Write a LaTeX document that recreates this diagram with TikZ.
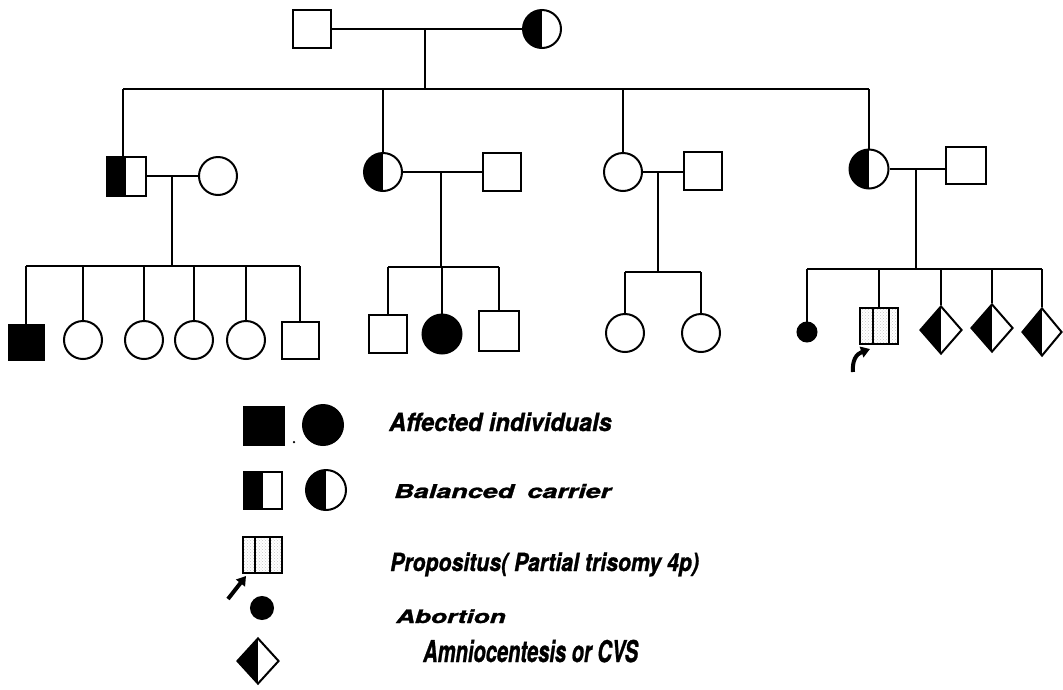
\documentclass[tikz,border=0pt]{standalone}
\usepackage{fontspec}
\usepackage{graphicx}
\newfontfamily\hv[FakeBold=1.2]{TeX Gyre Heros}
\usetikzlibrary{shapes.geometric,patterns,arrows.meta}
\begin{document}
\begin{tikzpicture}[x=1pt,y=-1pt,
  ln/.style={line width=2pt},
  ind/.style={draw, line width=2pt, inner sep=0pt},
  male/.style={ind, rectangle, minimum width=#1, minimum height=#1},
  male/.default=38pt,
  female/.style={ind, circle, minimum size=#1},
  female/.default=38pt,
  carrier/.style={path picture={\fill[black] (path picture bounding box.south west) rectangle (path picture bounding box.north);}},
  aff/.style={fill=black},
  probd/.style={ind, rectangle, pattern=crosshatch dots, pattern color=black!22, minimum width=38pt, minimum height=36pt},
  amnio/.style={ind, diamond, minimum width=42pt, minimum height=48pt, carrier},
  abort/.style={ind, circle, fill=black, minimum size=19pt},
  legtext/.style={inner sep=0pt, anchor=base west, font=\hv\bfseries\itshape},
  arr/.style={line width=4pt, -{Triangle[length=9pt,width=11pt]}},
]
\useasboundingbox (0,0) rectangle (1063,689);

% ---------- Generation I
\node[male] (I1) at (312,29) {};
\node[female, carrier] (I2) at (542,29) {};
\draw[ln] (I1) -- (I2);
\coordinate (m1) at (425,29);
\coordinate (b1) at (425,89);
\draw[ln] (m1) -- (b1);

% ---------- Generation II
\node[male=39pt, carrier] (II1) at (126,176) {};
\node[female] (II2) at (218,176) {};
\node[female, carrier] (II3) at (383,172) {};
\node[male] (II4) at (502,172) {};
\node[female] (II5) at (623,172) {};
\node[male] (II6) at (703,171) {};
\node[female=39pt, carrier] (II7) at (869,169) {};
\node[male, minimum width=40pt, minimum height=37pt] (II8) at (966,165) {};

\coordinate (b1L) at (123,89);
\draw[ln] (b1L) -- (II7.north |- b1);
\draw[ln] (b1L) -- (b1L |- II1.north);
\draw[ln] (II3.north |- b1) -- (II3.north);
\draw[ln] (II5.north |- b1) -- (II5.north);
\draw[ln] (II7.north |- b1) -- (II7.north);

% marriages
\draw[ln] (II1.east) -- (II2.west);
\draw[ln] (II3.east) -- (II4.west);
\draw[ln] (II5.east) -- (II5.east -| II6.west);
\draw[ln] (II7.east) -- (II7.east -| II8.west);

\coordinate (m2) at (172,176);
\coordinate (m3) at (441,172);
\coordinate (m5) at (658,172);
\coordinate (m4) at (916,169);
\coordinate (b2) at (172,266);
\coordinate (b3) at (441,267);
\coordinate (b5) at (658,272);
\coordinate (b4) at (916,269);
\draw[ln] (m2) -- (b2);
\draw[ln] (m3) -- (b3);
\draw[ln] (m5) -- (b5);
\draw[ln] (m4) -- (b4);

% ---------- Generation III, family 1
\node[male=35pt, aff] (III1) at (26,342) {};
\node[female] (III2) at (83,340) {};
\node[female] (III3) at (144,340) {};
\node[female] (III4) at (194,340) {};
\node[female] (III5) at (246,340) {};
\node[male=37pt] (III6) at (300,340) {};
\draw[ln] (III1.north |- b2) -- (III6.north |- b2);
\foreach \c in {III1,III2,III3,III4,III5,III6}
  \draw[ln] (\c.north |- b2) -- (\c.north);

% family 2
\node[male] (III7) at (388,334) {};
\node[female=39pt, aff] (III8) at (442,334) {};
\node[male=40pt] (III9) at (499,331) {};
\draw[ln] (III7.north |- b3) -- (III9.north |- b3);
\foreach \c in {III7,III8,III9}
  \draw[ln] (\c.north |- b3) -- (\c.north);

% family 3
\node[female] (III10) at (625,333) {};
\node[female] (III11) at (701,333) {};
\draw[ln] (III10.north |- b5) -- (III11.north |- b5);
\foreach \c in {III10,III11}
  \draw[ln] (\c.north |- b5) -- (\c.north);

% family 4
\node[abort] (III12) at (807,332) {};
\node[probd] (III13) at (879,326) {};
\draw[ln] ([xshift=-6pt]III13.north) -- ([xshift=-6pt]III13.south);
\draw[ln] ([xshift=10pt]III13.north) -- ([xshift=10pt]III13.south);
\node[amnio] (III14) at (941,330) {};
\node[amnio] (III15) at (992,328) {};
\node[amnio, minimum width=40pt] (III16) at (1042,332) {};
\draw[ln] (III12.north |- b4) -- (III16.north |- b4);
\foreach \c in {III12,III13,III14,III15,III16}
  \draw[ln] (\c.north |- b4) -- (\c.north);

\coordinate (a1s) at (853,372);
\coordinate (a1e) at (870,349);
\draw[arr] (a1s) .. controls (852,361) and (856,354) .. (a1e);

% ---------- Legend
\node[male, aff, minimum width=40pt, minimum height=38pt] (L1) at (264,426) {};
\node[circle, fill=black, inner sep=0pt, minimum size=2.5pt] (Ldot) at (294,442) {};
\node[female=40pt, aff] (L2) at (323,425) {};
\node[legtext, font=\hv\bfseries\itshape\fontsize{25}{28}\selectfont] (T1) at (389,431) {\scalebox{0.94}[1]{Affected individuals}};

\node[male, carrier, minimum width=38pt, minimum height=37pt] (L3) at (263,490) {};
\node[female=40pt, carrier] (L4) at (326,490) {};
\node[legtext, font=\hv\bfseries\itshape\fontsize{19}{22}\selectfont] (T2) at (394,498) {\scalebox{1.42}[1]{Balanced\hspace{4pt} carrier}};

\node[probd, minimum width=39pt, minimum height=36pt] (L5) at (262,555) {};
\draw[ln] ([xshift=-7pt]L5.north) -- ([xshift=-7pt]L5.south);
\draw[ln] ([xshift=8pt]L5.north) -- ([xshift=8pt]L5.south);
\coordinate (a2s) at (228,599);
\coordinate (a2e) at (246,576);
\draw[arr] (a2s) -- (a2e);
\node[legtext, font=\hv\bfseries\itshape\fontsize{25}{28}\selectfont] (T3) at (390,571) {\scalebox{0.85}[1]{Propositus( Partial trisomy 4p)}};

\node[abort, minimum size=22pt] (L6) at (262,608) {};
\node[legtext, font=\hv\bfseries\itshape\fontsize{18.5}{22}\selectfont] (T4) at (396,623) {\scalebox{1.42}[1]{Abortion}};

\node[amnio, minimum width=42pt, minimum height=46pt] (L7) at (258,661) {};
\node[legtext, font=\hv\bfseries\itshape\fontsize{30}{34}\selectfont] (T5) at (423,662) {\scalebox{0.67}[1]{Amniocentesis or CVS}};
\end{tikzpicture}
\end{document}
